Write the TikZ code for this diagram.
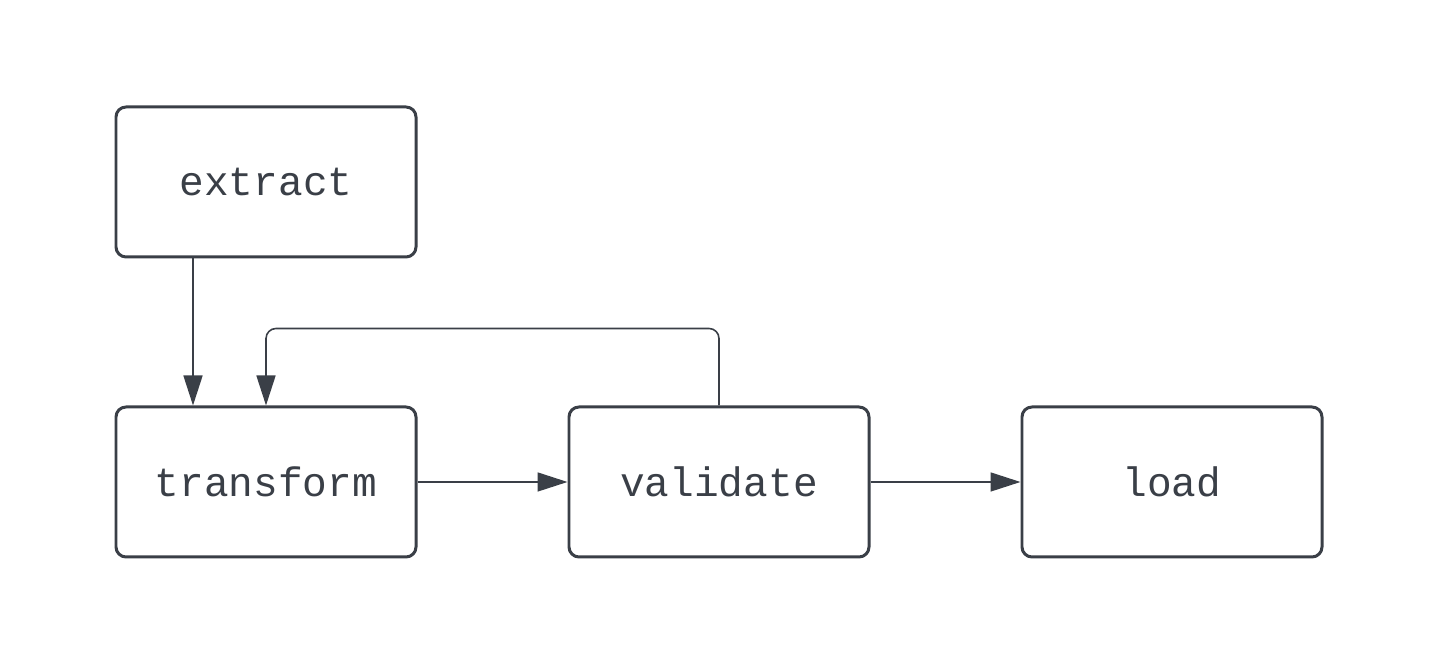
\documentclass[tikz,border=0pt]{standalone}
\usepackage{fontspec}
\setmonofont{Liberation Mono}
\usetikzlibrary{arrows.meta}
\usetikzlibrary{positioning}
\definecolor{ink}{HTML}{3A3F47}
\begin{document}
\begin{tikzpicture}[x=1cm,y=1cm,
  stage/.style={draw=ink,line width=0.85pt,rounded corners=0.1cm,minimum width=3cm,minimum height=1.5cm,
    font=\fontsize{11.7}{14}\ttfamily,text=ink},
  flow/.style={draw=ink,line width=0.45pt,-{Triangle[length=3mm,width=1.9mm]}}]
  \useasboundingbox (0,0) rectangle (14.33,6.71);
  \node[stage] (extract) at (2.66,4.89) {extract};
  \node[stage] (transform) at (2.66,1.89) {transform};
  \node[stage,right=1.5cm of transform] (validate) {validate};
  \node[stage,right=1.5cm of validate] (load) {load};

  \draw[flow] ([xshift=-0.73cm]extract.south)--([xshift=-0.73cm]transform.north);
  \draw[flow,rounded corners=0.1cm] (validate.north)--++(0,0.77)-|(transform.north);
  \draw[flow](transform)--(validate);
  \draw[flow](validate)--(load);
\end{tikzpicture}
\end{document}
